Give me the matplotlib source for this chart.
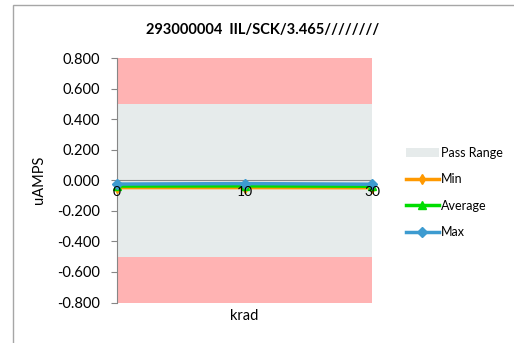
import matplotlib.pyplot as plt
from matplotlib.patches import Rectangle

plt.rcParams['font.family'] = ['Lato', 'DejaVu Sans']

# Data
krad_labels = ['0', '10', '30']
min_vals = [-0.048, -0.048, -0.049]
avg_vals = [-0.038, -0.037, -0.039]
max_vals = [-0.025, -0.022, -0.026]
pass_low, pass_high = -0.5, 0.5
y_low, y_high = -0.8, 0.8

fig = plt.figure(figsize=(5.14, 3.43), dpi=100)
# chart area border
fig.patches.append(Rectangle((13 / 514, -0.1), 1.2, 1 - 5 / 343 + 0.1, transform=fig.transFigure,
                             fill=False, edgecolor='#A6A6A6', linewidth=1.0))

ax = fig.add_axes([117 / 514, 1 - 302.5 / 343, (372 - 117) / 514, (302.5 - 58) / 343])

x = list(range(len(krad_labels)))

# background bands
ax.axhspan(pass_high, y_high, color='#FFB3B3', lw=0, zorder=0)
ax.axhspan(y_low, pass_low, color='#FFB3B3', lw=0, zorder=0)
ax.axhspan(pass_low, pass_high, color='#E6EBEB', lw=0, zorder=0, label='Pass Range')

ax.plot(x, min_vals, color='#FF9900', lw=2.5, marker='d', ms=5, label='Min', zorder=3, clip_on=False)
ax.plot(x, avg_vals, color='#00DD00', lw=2.5, marker='^', ms=6, label='Average', zorder=4, clip_on=False)
ax.plot(x, max_vals, color='#3D9BD0', lw=2.5, marker='D', ms=5, label='Max', zorder=5, clip_on=False)

ax.set_xlim(0, len(krad_labels) - 1)
ax.set_ylim(y_low, y_high)
yticks = [-0.8, -0.6, -0.4, -0.2, 0.0, 0.2, 0.4, 0.6, 0.8]
ax.set_yticks(yticks)
ax.set_yticklabels([f'{v:.3f}' for v in yticks], fontsize=10.5)
ax.set_xticks(x)
ax.set_xticklabels(krad_labels, fontsize=10)
ax.xaxis.set_zorder(6)

ax.spines['bottom'].set_position(('data', 0))
ax.spines['bottom'].set_color('#868686')
ax.spines['left'].set_color('#868686')
ax.spines['top'].set_visible(False)
ax.spines['right'].set_visible(False)
ax.tick_params(axis='y', length=4, color='#868686', pad=8)
ax.tick_params(axis='x', length=0, pad=4)

ax.set_ylabel('uAMPS', fontsize=10.5)
ax.yaxis.set_label_coords(-0.28, 0.5)
fig.text(244 / 514, 1 - 316 / 343, 'krad', ha='center', va='center', fontsize=10.5)
fig.text(263 / 514, 1 - 30 / 343, '293000004  IIL/SCK/3.465////////', ha='center', va='center',
         fontsize=10.5, fontweight='bold')

leg = ax.legend(loc='center left', bbox_to_anchor=(1.09, 0.45), frameon=False, fontsize=9,
                handlelength=2.6, labelspacing=1.15, handletextpad=0.2)

fig.savefig('out.png', dpi=100)
